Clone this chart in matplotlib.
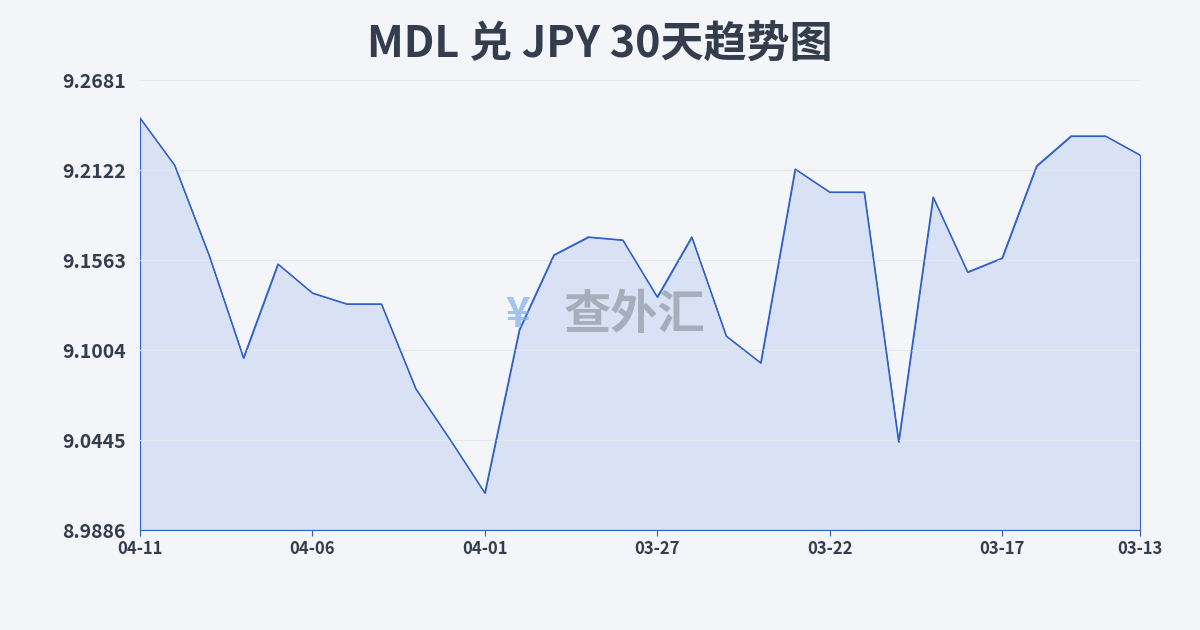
import matplotlib
matplotlib.use("Agg")
import matplotlib.pyplot as plt
import numpy as np

plt.rcParams['font.family'] = ['Noto Sans CJK SC', 'DejaVu Sans']

dates = ["04-11","04-10","04-09","04-08","04-07","04-06","04-05","04-04","04-03","04-02",
         "04-01","03-31","03-30","03-29","03-28","03-27","03-26","03-25","03-24","03-23",
         "03-22","03-21","03-20","03-19","03-18","03-17","03-16","03-15","03-14","03-13"]
values = [9.2445,9.2153,9.1594,9.0955,9.1538,9.1358,9.1290,9.1290,9.0762,9.0445,
          9.0116,9.1129,9.1594,9.1706,9.1687,9.1333,9.1706,9.1091,9.0924,9.2128,
          9.1985,9.1985,9.0433,9.1954,9.1488,9.1575,9.2147,9.2333,9.2333,9.2215]
yticks = [8.9886, 9.0445, 9.1004, 9.1563, 9.2122, 9.2681]
tick_idx = [0,5,10,15,20,25,29]

fig = plt.figure(figsize=(12,6.3), dpi=100)
fig.patch.set_facecolor('#f3f5f8')
ax = fig.add_axes([140/1200, 1-530/630, 1000/1200, 450/630])
ax.set_facecolor('#f3f5f8')
x = np.arange(len(values))
ax.fill_between(x, values, yticks[0], facecolor=(0.79, 0.84, 0.95, 0.6), edgecolor='#2f5fc9', lw=0.8)
ax.plot(x, values, color='#2f5fc9', lw=1)
ax.set_xlim(0, len(values)-1)
ax.set_ylim(yticks[0], yticks[-1])
ax.set_yticks(yticks)
ax.set_yticklabels([f"{v:.4f}" for v in yticks], fontsize=14, fontweight='bold', color='#333d4d')
ax.set_xticks(tick_idx)
ax.set_xticklabels([dates[i] for i in tick_idx], fontsize=12, fontweight='bold', color='#333d4d')
ax.grid(axis='y', color='#e3e6ea', lw=0.8)
for s in ['top','right','left']:
    ax.spines[s].set_visible(False)
ax.spines['bottom'].set_color('#2f5fc9')
ax.tick_params(axis='y', length=0, pad=10)
ax.tick_params(axis='x', length=4, color='#2f5fc9')
fig.text(635/1200, 1-315/630, "查外汇", fontsize=34, fontweight='bold', color='#8f98a3', alpha=0.7, ha='center', va='center')
fig.text(518/1200, 1-315/630, "¥", fontsize=30, fontweight='bold', color='#7fb0ea', alpha=0.7, ha='center', va='center')
fig.text(0.5, 1-45/630, "MDL 兑 JPY 30天趋势图", fontsize=31, fontweight='bold', color='#333d4d', ha='center', va='center')
fig.savefig("out.png", dpi=100, facecolor=fig.get_facecolor())
